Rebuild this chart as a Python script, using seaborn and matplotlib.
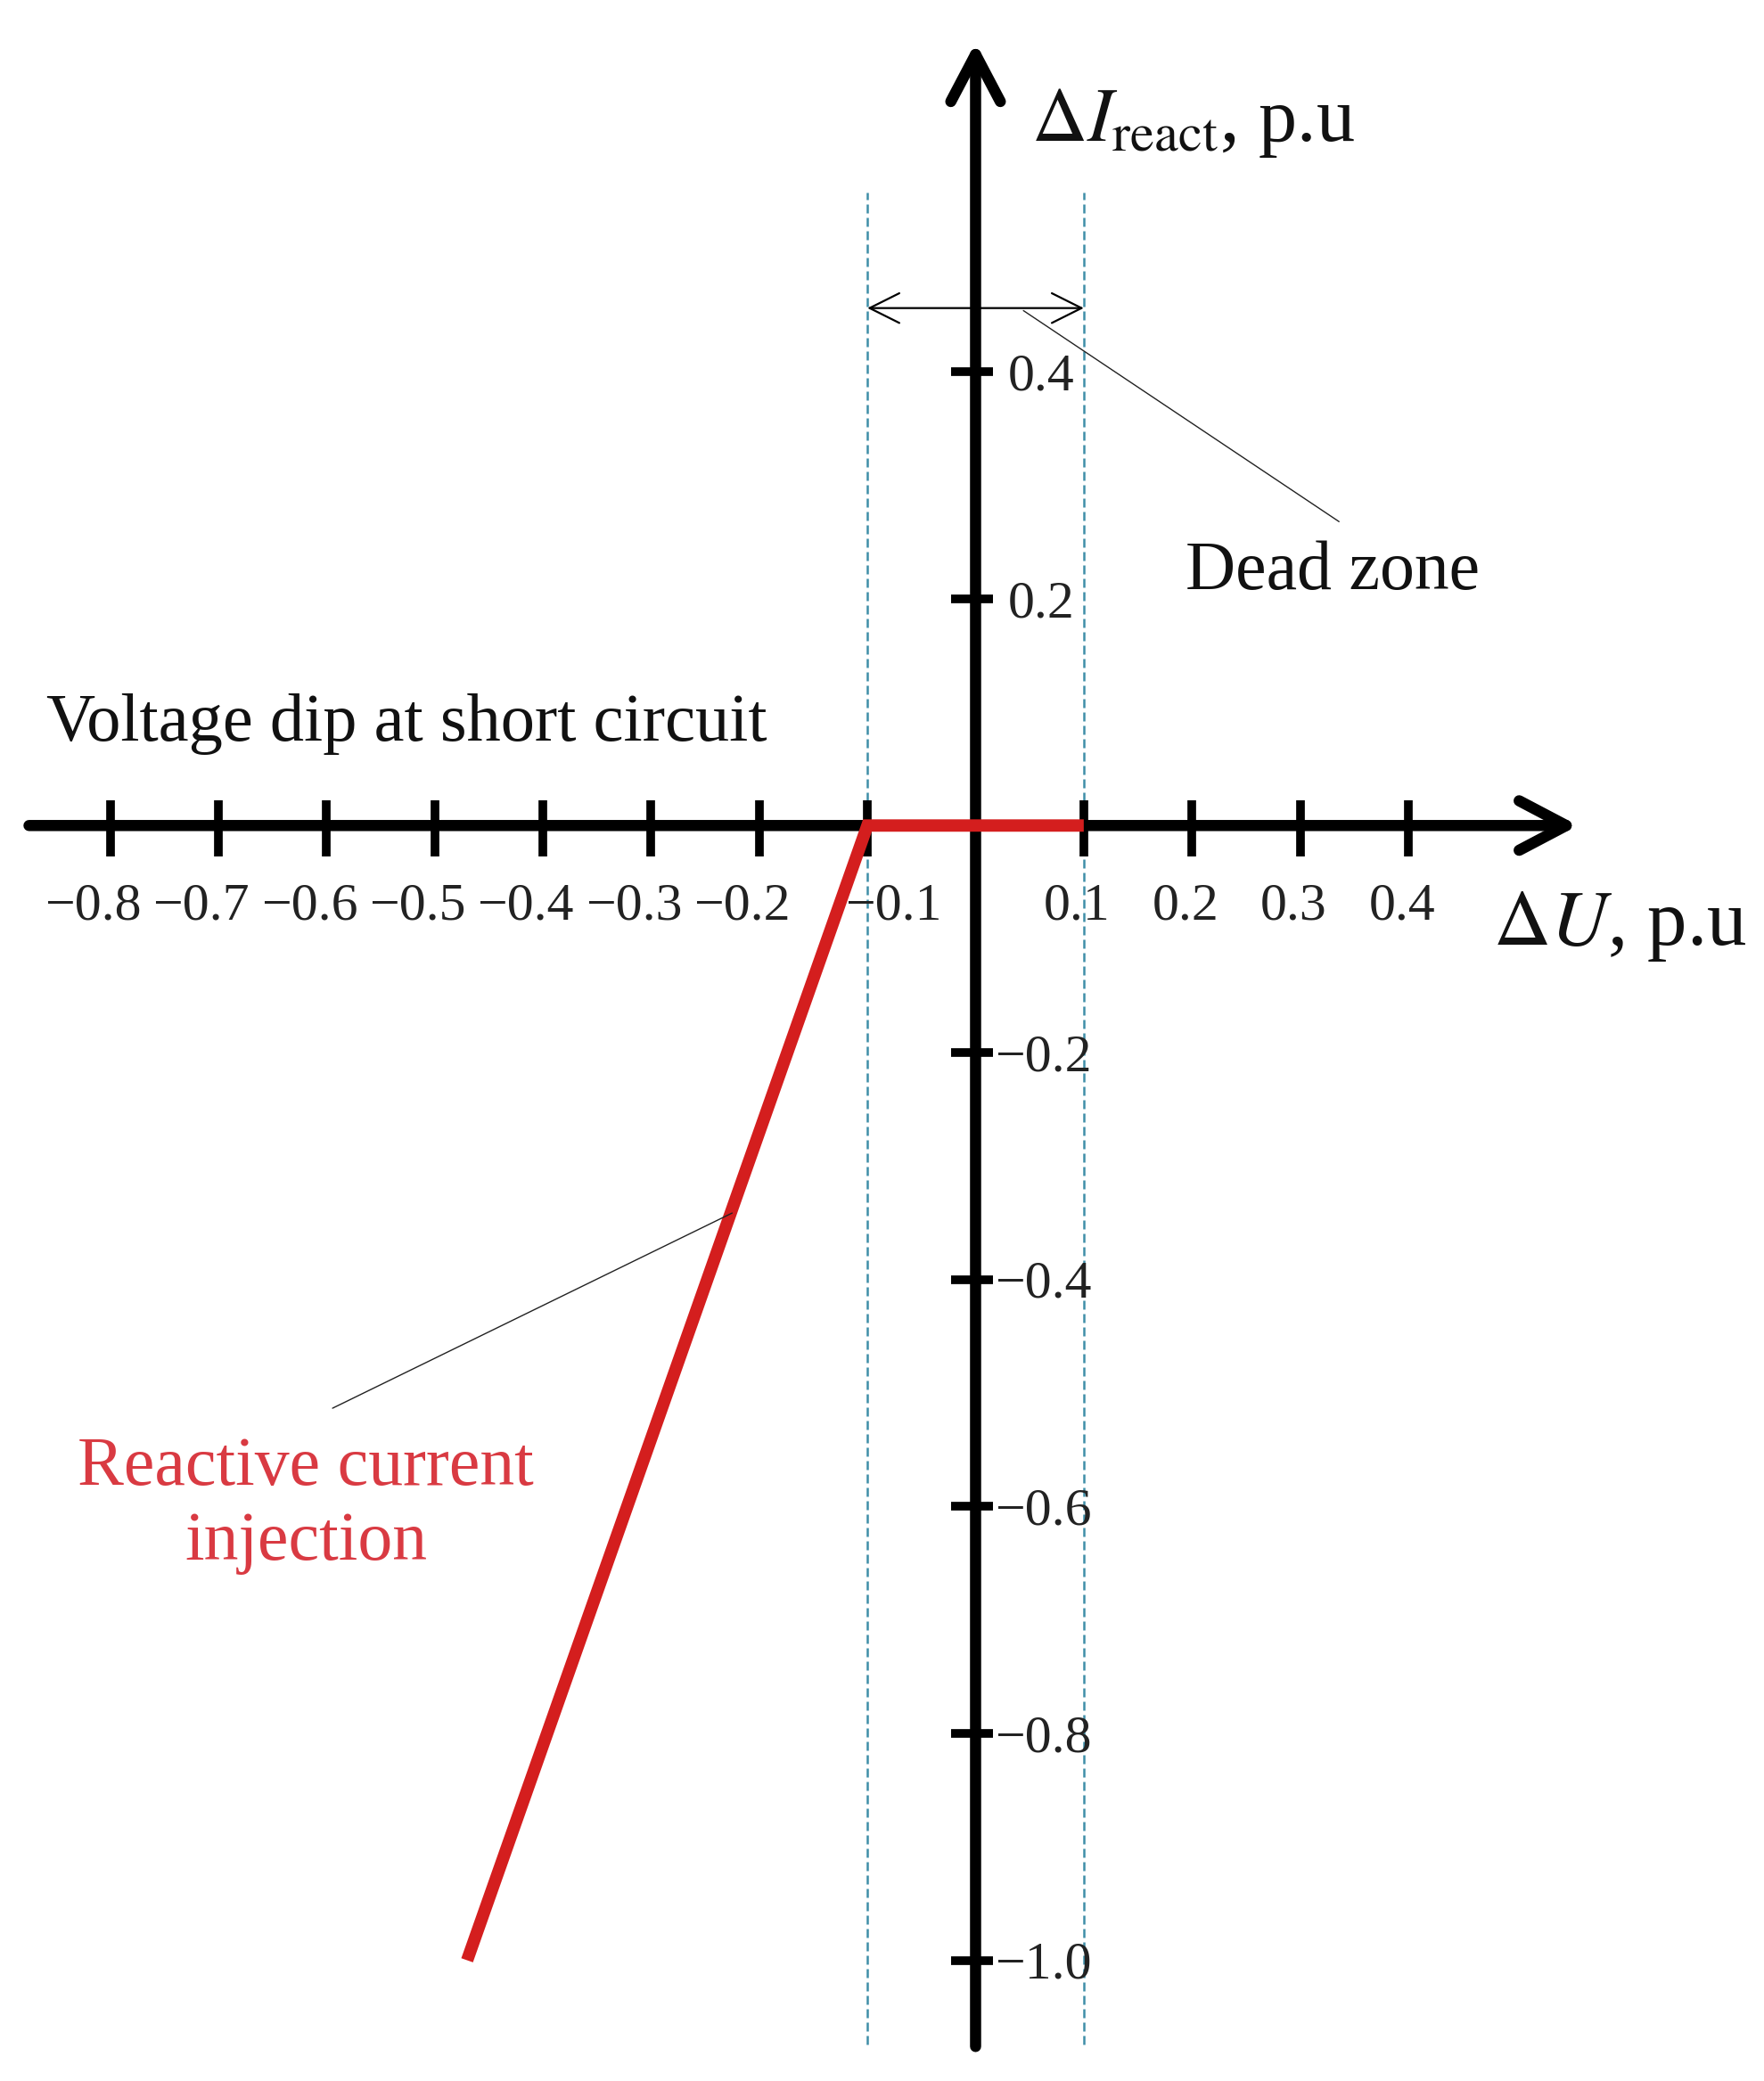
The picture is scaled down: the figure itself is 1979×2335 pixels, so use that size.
import matplotlib
matplotlib.use("Agg")
import matplotlib.pyplot as plt
import seaborn as sns

# Valores (p.u)
x_ticks = [-0.8, -0.7, -0.6, -0.5, -0.4, -0.3, -0.2, -0.1, 0.1, 0.2, 0.3, 0.4]
x_tick_labels = ["−0.8", "−0.7", "−0.6", "−0.5", "−0.4", "−0.3", "−0.2", "−0.1",
                 "0.1", "0.2", "0.3", "0.4"]
y_ticks = [0.4, 0.2, -0.2, -0.4, -0.6, -0.8, -1.0]
y_tick_labels = ["0.4", "0.2", "−0.2", "−0.4", "−0.6", "−0.8", "−1.0"]

# Característica de inyección de corriente reactiva
curve_du = [-0.47, -0.1, 0.1]
curve_di = [-1.0, 0.0, 0.0]

# Límites de la banda muerta
dead_zone = [-0.1, 0.1]

RED = "#d41e1e"
RED_TEXT = "#d93a42"
DASH = "#3f8ea8"


def main():
    sns.set_style("white")
    plt.rcParams["font.family"] = ["Liberation Serif", "DejaVu Serif"]
    plt.rcParams["mathtext.fontset"] = "stix"

    fig = plt.figure(figsize=(19.79, 23.35), dpi=100)
    ax = fig.add_axes([0, 0, 1, 1])
    ax.set_xlim(-0.9018, 0.7288)
    ax.set_ylim(-1.1064, 0.7275)
    ax.axis("off")

    # Líneas discontinuas de la banda muerta
    ax.vlines(dead_zone, -1.074, 0.558, colors=DASH, linestyles=(0, (4, 2)),
              lw=1.8, zorder=1)

    # Ejes con flechas
    arrow_kw = dict(arrowstyle="->,head_length=1.9,head_width=1.0", lw=9,
                    color="black", shrinkA=0, shrinkB=0, mutation_scale=20)
    ax.annotate("", xy=(0.557, 0), xytext=(-0.875, 0), arrowprops=arrow_kw, zorder=2)
    ax.annotate("", xy=(0, 0.690), xytext=(0, -1.076), arrowprops=arrow_kw, zorder=2)

    # Marcas de los ejes
    ax.vlines(x_ticks, -0.027, 0.022, colors="black", lw=7, zorder=2)
    ax.hlines(y_ticks, -0.023, 0.016, colors="black", lw=7, zorder=2)

    for x, lab in zip(x_ticks, x_tick_labels):
        if x == -0.1:
            xpos = x + 0.024
        elif x < 0:
            xpos = x - 0.016
        else:
            xpos = x - 0.006
        ax.text(xpos, -0.083, lab, ha="center", va="baseline", fontsize=43,
                color="#222222", zorder=4)

    for y, lab in zip(y_ticks, y_tick_labels):
        xpos = 0.018 if y < 0 else 0.0295
        ax.text(xpos, y - 0.016, lab, ha="left", va="baseline", fontsize=43,
                color="#222222", zorder=4)

    # Curva de corriente reactiva
    sns.lineplot(x=curve_du, y=curve_di, ax=ax, color=RED, lw=10, sort=False,
                 estimator=None, zorder=3)
    for line in ax.get_lines():
        line.set_solid_joinstyle("miter")
        line.set_solid_capstyle("butt")

    # Flecha doble de la banda muerta
    ax.annotate("", xy=(dead_zone[1], 0.456), xytext=(dead_zone[0], 0.456),
                arrowprops=dict(arrowstyle="<->,head_length=1.2,head_width=0.6",
                                mutation_scale=20, lw=1.6, color="black",
                                shrinkA=0, shrinkB=0), zorder=4)

    # Líneas guía de las anotaciones
    ax.plot([0.0442, 0.336], [0.4538, 0.2678], color="#222222", lw=1.0, zorder=4)
    ax.plot([-0.5944, -0.2250], [-0.5135, -0.3415], color="#222222", lw=1.0, zorder=4)

    # Textos
    ax.text(0.0515, 0.6035, r"$\Delta I_{\mathrm{react}}$, p.u", fontsize=62,
            ha="left", va="baseline", color="#111111")
    ax.text(0.4785, -0.1053, r"$\Delta U$, p.u", fontsize=64,
            ha="left", va="baseline", color="#111111")
    ax.text(0.194, 0.208, "Dead zone", fontsize=56, ha="left", va="baseline",
            color="#111111")
    ax.text(-0.859, 0.0749, "Voltage dip at short circuit", fontsize=55,
            ha="left", va="baseline", color="#111111")
    ax.text(-0.619, -0.5813, "Reactive current", fontsize=56, ha="center",
            va="baseline", color=RED_TEXT)
    ax.text(-0.619, -0.6468, "injection", fontsize=56, ha="center",
            va="baseline", color=RED_TEXT)

    fig.savefig("out.png", dpi=100)
    plt.close(fig)


if __name__ == "__main__":
    main()
